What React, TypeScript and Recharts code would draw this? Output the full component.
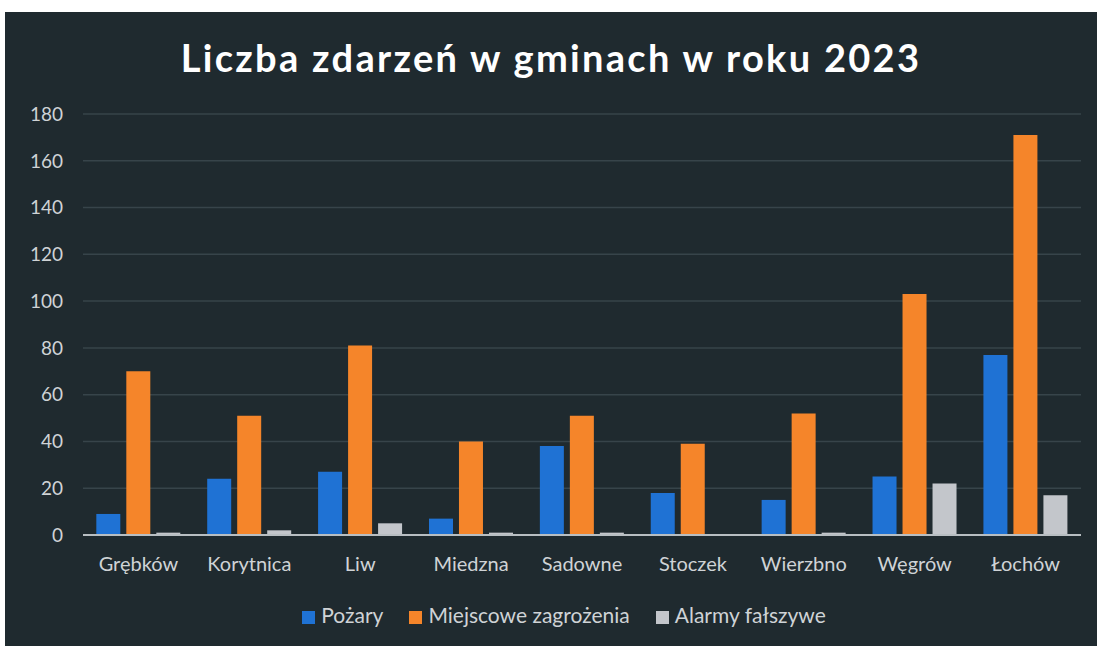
import React from 'react';
import { BarChart, Bar, XAxis, YAxis, CartesianGrid, Legend, ReferenceLine } from 'recharts';

const gminy = ['Grębków', 'Korytnica', 'Liw', 'Miedzna', 'Sadowne', 'Stoczek', 'Wierzbno', 'Węgrów', 'Łochów'];
const pozary = [9, 24, 27, 7, 38, 18, 15, 25, 77];
const zagrozenia = [70, 51, 81, 40, 51, 39, 52, 103, 171];
const alarmy = [1, 2, 5, 1, 1, 0, 1, 22, 17];
const yTicks = [0, 20, 40, 60, 80, 100, 120, 140, 160, 180];
const seriesOrder = ['pozary', 'zagrozenia', 'alarmy'];

const data = gminy.map((name, i) => ({
  name,
  pozary: pozary[i],
  zagrozenia: zagrozenia[i],
  alarmy: alarmy[i],
}));

const BG = '#1f2a2f';
const TEXT = '#cfd3d6';
const FONT = 'Lato, "Open Sans", sans-serif';

const App: React.FC = () => {
  return (
    <div
      style={{
        position: 'absolute',
        left: 5,
        top: 12,
        width: 1092,
        height: 634,
        background: BG,
        fontFamily: FONT,
      }}
    >
      <div
        style={{
          position: 'absolute',
          top: 22,
          left: 0,
          width: 1092,
          textAlign: 'center',
          color: '#ffffff',
          fontSize: 38,
          fontWeight: 700,
          letterSpacing: 2.3,
        }}
      >
        Liczba zdarzeń w gminach w roku 2023
      </div>
      <BarChart
        width={1092}
        height={634}
        data={data}
        margin={{ top: 102, right: 16, left: 0, bottom: 16 }}
        barCategoryGap="12%"
        barGap={6}
      >
        <CartesianGrid vertical={false} stroke="#37444a" strokeWidth={1.5} />
        <XAxis
          dataKey="name"
          axisLine={false}
          tickLine={false}
          height={70}
          tickMargin={16}
          tick={{ fill: TEXT, fontSize: 20, fontFamily: FONT }}
        />
        <YAxis
          width={78}
          domain={[0, 180]}
          ticks={yTicks}
          axisLine={false}
          tickLine={false}
          tickSize={0}
          tickMargin={20}
          tick={{ fill: TEXT, fontSize: 19, fontFamily: FONT }}
        />
        <ReferenceLine y={0} stroke="#b8bec2" strokeWidth={2} />
        <Legend
          verticalAlign="bottom"
          iconType="square"
          iconSize={13}
          itemSorter={(item: any) => seriesOrder.indexOf(item.dataKey)}
          wrapperStyle={{ fontSize: 21, fontFamily: FONT, paddingLeft: 34, marginBottom: 3 }}
          formatter={(value: string) => (
            <span style={{ color: TEXT, marginLeft: 2, marginRight: 16 }}>{value}</span>
          )}
        />
        <Bar dataKey="pozary" name="Pożary" fill="#1f72d4" isAnimationActive={false} />
        <Bar dataKey="zagrozenia" name="Miejscowe zagrożenia" fill="#f5852a" isAnimationActive={false} />
        <Bar dataKey="alarmy" name="Alarmy fałszywe" fill="#c3c6cb" isAnimationActive={false} />
      </BarChart>
    </div>
  );
};

export default App;
